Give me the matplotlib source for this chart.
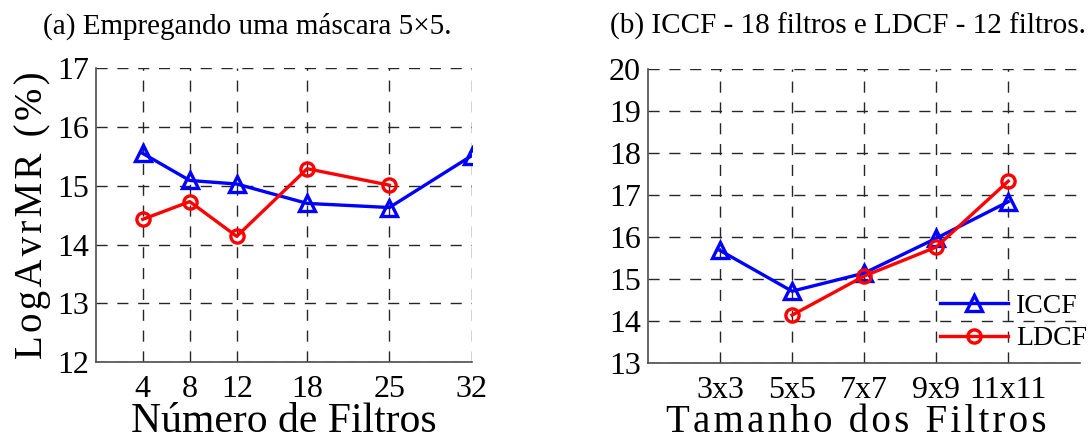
import matplotlib.pyplot as plt
import numpy as np

plt.rcParams['font.family'] = ['Liberation Serif', 'DejaVu Serif']

# (a) mascara 5x5
n_filtros = [4, 8, 12, 18, 25, 32]
iccf_a = [15.55, 15.09, 15.03, 14.70, 14.63, 15.51]
ldcf_a_x = [4, 8, 12, 18, 25]
ldcf_a = [14.43, 14.73, 14.14, 15.29, 15.01]

# (b) tamanho dos filtros
tamanhos = ['3x3', '5x5', '7x7', '9x9', '11x11']
iccf_b = [15.68, 14.71, 15.14, 15.97, 16.84]
ldcf_b = [14.14, 15.07, 15.76, 17.33]


def spaced(txt, sep='\u200a'):
    # letras afastadas como no original
    return sep.join(txt)


fig = plt.figure(figsize=(10.89, 4.4), dpi=100)
ax1 = fig.add_axes([0.088, 0.177, 0.345, 0.668])
ax2 = fig.add_axes([0.595, 0.175, 0.397, 0.668])

grid_kw = dict(color='0.15', linestyle=(0, (8, 7)), linewidth=1.0)
for ax in (ax1, ax2):
    ax.grid(True, **grid_kw)
    ax.set_axisbelow(True)
    for s in ('top', 'right'):
        ax.spines[s].set_visible(False)
    for s in ('left', 'bottom'):
        ax.spines[s].set_color('0.3')
        ax.spines[s].set_linewidth(1.2)
    ax.tick_params(length=0, labelsize=23)
    ax.tick_params(axis='y', pad=5)
    ax.tick_params(axis='x', pad=9)

ax1.plot(n_filtros, iccf_a, color='blue', lw=2.4, marker='^', ms=12,
         mfc='none', mew=2.4, label='ICCF')
ax1.plot(ldcf_a_x, ldcf_a, color='red', lw=2.4, marker='o', ms=9.5,
         mfc='none', mew=2.4, label='LDCF')
ax1.set_xlim(0, 32)
ax1.set_ylim(12, 17)
ax1.set_xticks(n_filtros)
ax1.set_yticks(range(12, 18))
ax1.set_xlabel('Número de Filtros', fontsize=30, labelpad=-1)
ax1.set_ylabel(spaced('LogAvrMR (%)'), fontsize=28, labelpad=4)

xb = np.arange(1, len(tamanhos) + 1)
ax2.plot(xb, iccf_b, color='blue', lw=2.4, marker='^', ms=12,
         mfc='none', mew=2.4, label='ICCF')
ax2.plot(xb[1:], ldcf_b, color='red', lw=2.4, marker='o', ms=9.5,
         mfc='none', mew=2.4, label='LDCF')
ax2.set_xlim(0, 6)
ax2.set_ylim(13, 20)
ax2.set_xticks(xb)
ax2.set_xticklabels(tamanhos)
ax2.set_yticks(range(13, 21))
ax2.set_xlabel(spaced('Tamanho dos Filtros'), fontsize=28)
ax2.xaxis.set_label_coords(0.481, -0.14)
ax2.legend(loc='lower right', bbox_to_anchor=(1.016, 0.04), frameon=False,
           fontsize=20, handlelength=2.45, handletextpad=0.3, labelspacing=0.25,
           borderaxespad=0.0, borderpad=0.0)

fig.text(0.227, 0.94, '(a) Empregando uma máscara 5×5.', fontsize=21,
         ha='center', va='center')
fig.text(0.779, 0.94, '(b) ICCF - 18 filtros e LDCF - 12 filtros.', fontsize=21,
         ha='center', va='center')

fig.savefig('out.png', dpi=100)
